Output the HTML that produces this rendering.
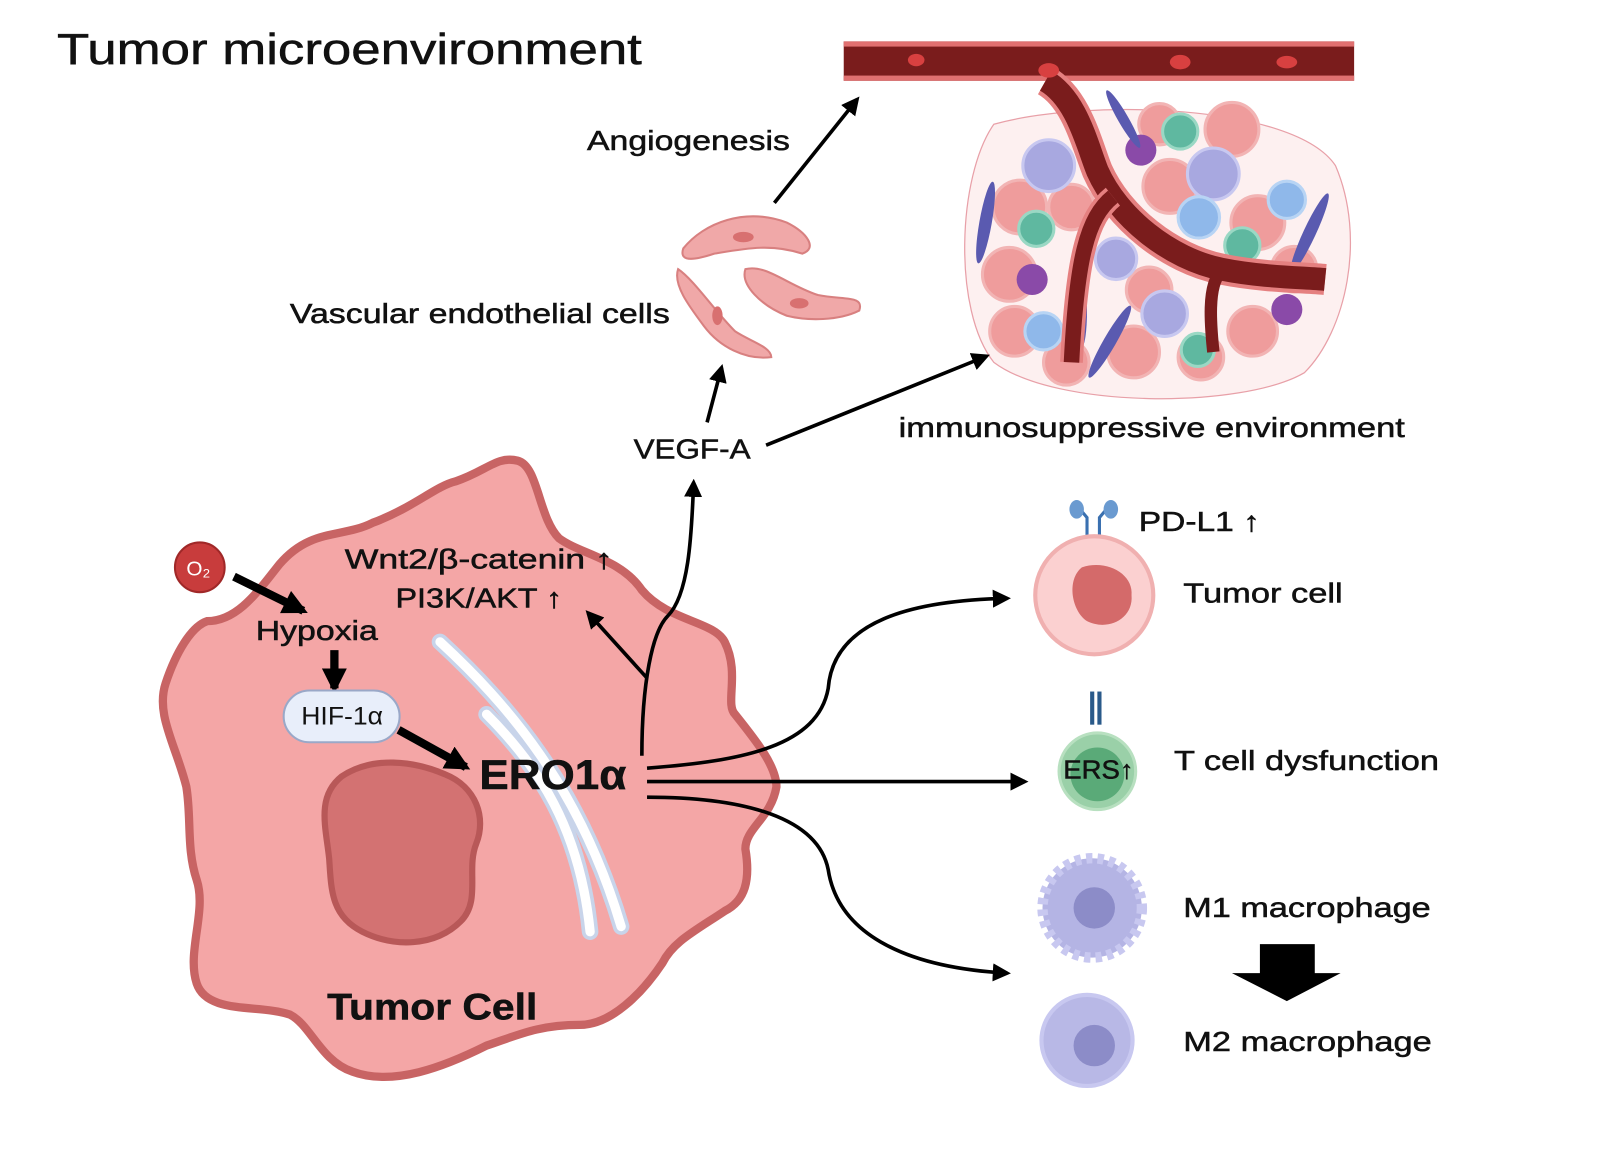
<!DOCTYPE html>
<html><head><meta charset="utf-8"><style>
html,body{margin:0;padding:0;background:#fff;}
svg{display:block;}
text{font-family:"Liberation Sans",sans-serif;fill:#111;stroke:#111;stroke-width:0.5;}
</style></head><body>
<svg width="1615" height="1175" viewBox="0 0 1560 1135" preserveAspectRatio="none" xmlns="http://www.w3.org/2000/svg">
<defs>
<marker id="ah" viewBox="0 0 10 10" refX="8" refY="5" markerWidth="5" markerHeight="5" orient="auto"><path d="M0,0 L10,5 L0,10 z" fill="#000"/></marker>
<marker id="ahs" viewBox="0 0 10 10" refX="8" refY="5" markerWidth="3" markerHeight="3" orient="auto"><path d="M0,0 L10,5 L0,10 z" fill="#000"/></marker>
</defs>
<text x="55" y="62" font-size="42" textLength="565" lengthAdjust="spacingAndGlyphs">Tumor microenvironment</text>

<!-- tissue -->
<path d="M960,120 C1050,95 1250,100 1290,160 C1320,230 1300,320 1260,360 C1200,395 1020,395 960,350 C920,300 925,170 960,120z" fill="#fdf0f0" stroke="#e8a0a8" stroke-width="1.2"/>
<g fill="#ef9c9c" stroke="#f2b4b4" stroke-width="3">
<circle cx="985" cy="200" r="26"/><circle cx="975" cy="265" r="26"/><circle cx="980" cy="320" r="24"/>
<circle cx="1130" cy="180" r="26"/><circle cx="1190" cy="125" r="26"/><circle cx="1215" cy="215" r="26"/>
<circle cx="1110" cy="280" r="22"/><circle cx="1095" cy="340" r="25"/><circle cx="1160" cy="345" r="22"/><circle cx="1210" cy="320" r="24"/><circle cx="1030" cy="350" r="22"/>
<circle cx="1035" cy="200" r="22"/><circle cx="1250" cy="260" r="22"/><circle cx="1120" cy="120" r="20"/>
</g>
<g fill="#a8a8e0" stroke="#c8c8f0" stroke-width="3">
<circle cx="1013" cy="160" r="25"/><circle cx="1172" cy="168" r="25"/><circle cx="1078" cy="250" r="20"/><circle cx="1125" cy="303" r="22"/>
</g>
<g fill="#8fb8ea" stroke="#b8d4f4" stroke-width="3"><circle cx="1158" cy="210" r="20"/><circle cx="1243" cy="193" r="18"/><circle cx="1008" cy="320" r="18"/></g>
<g fill="#5fb8a0" stroke="#9ad8c4" stroke-width="3"><circle cx="1140" cy="127" r="17"/><circle cx="1001" cy="221" r="17"/><circle cx="1200" cy="237" r="17"/><circle cx="1157" cy="338" r="16"/></g>
<g fill="#8a4aa8"><circle cx="1102" cy="145" r="15"/><circle cx="997" cy="270" r="15"/><circle cx="1243" cy="299" r="15"/></g>
<g fill="#5a5ab0"><ellipse cx="952" cy="215" rx="6" ry="40" transform="rotate(10 952 215)"/><ellipse cx="1265" cy="225" rx="6" ry="42" transform="rotate(25 1265 225)"/><ellipse cx="1072" cy="330" rx="6" ry="40" transform="rotate(30 1072 330)"/><ellipse cx="1045" cy="300" rx="5" ry="35"/><ellipse cx="1085" cy="115" rx="5" ry="32" transform="rotate(-30 1085 115)"/></g>
<!-- vessel -->
<rect x="815" y="40" width="493" height="38" fill="#7a1c1c"/>
<rect x="815" y="40" width="493" height="5" fill="#e07070"/>
<rect x="815" y="73" width="493" height="5" fill="#e07070"/>
<path d="M1010,78 C1040,95 1050,140 1060,165 C1080,210 1130,250 1180,260 C1220,268 1260,268 1280,270" fill="none" stroke="#e58080" stroke-width="30"/>
<path d="M1010,78 C1040,95 1050,140 1060,165 C1080,210 1130,250 1180,260 C1220,268 1260,268 1280,270" fill="none" stroke="#7a1c1c" stroke-width="22"/>
<path d="M1075,190 C1050,210 1040,250 1035,350" fill="none" stroke="#e58080" stroke-width="22"/>
<path d="M1075,190 C1050,210 1040,250 1035,350" fill="none" stroke="#7a1c1c" stroke-width="15"/>
<path d="M1180,262 C1165,275 1170,320 1172,340" fill="none" stroke="#7a1c1c" stroke-width="12"/>
<g fill="#d84040"><ellipse cx="885" cy="58" rx="8" ry="6"/><ellipse cx="1013" cy="68" rx="10" ry="7"/><ellipse cx="1140" cy="60" rx="10" ry="7"/><ellipse cx="1243" cy="60" rx="10" ry="6"/></g>

<!-- endothelial cells -->
<g fill="#f0a8a8" stroke="#d88080" stroke-width="2">
<path d="M660,240 C680,215 720,200 760,215 C780,225 790,240 775,245 C745,235 720,240 690,245 C675,250 655,255 660,240z"/>
<path d="M720,260 C740,255 760,275 790,285 C815,290 835,285 830,300 C810,310 780,310 760,305 C735,295 715,275 720,260z"/>
<path d="M655,260 C670,270 690,300 710,320 C725,330 745,335 745,345 C720,348 695,335 680,315 C665,295 650,275 655,260z"/>
</g>
<g fill="#d87070"><ellipse cx="718" cy="229" rx="10" ry="5"/><ellipse cx="772" cy="293" rx="9" ry="5"/><ellipse cx="693" cy="305" rx="5" ry="9"/></g>

<text x="567" y="145" font-size="27" textLength="196" lengthAdjust="spacingAndGlyphs">Angiogenesis</text>
<line x1="748" y1="196" x2="828" y2="96" stroke="#000" stroke-width="3.5" marker-end="url(#ah)"/>
<text x="280" y="312" font-size="27" textLength="367" lengthAdjust="spacingAndGlyphs">Vascular endothelial cells</text>
<text x="612" y="443" font-size="27" textLength="113" lengthAdjust="spacingAndGlyphs">VEGF-A</text>
<line x1="683" y1="408" x2="697" y2="355" stroke="#000" stroke-width="3.5" marker-end="url(#ah)"/>
<line x1="740" y1="430" x2="953" y2="344" stroke="#000" stroke-width="3.5" marker-end="url(#ah)"/>
<text x="868" y="422" font-size="27" textLength="489" lengthAdjust="spacingAndGlyphs">immunosuppressive environment</text>

<!-- big tumor cell -->
<path d="M200,600 C230,600 250,570 270,545 C300,510 330,520 360,505 C400,490 420,470 440,465 C470,455 480,440 500,445 C520,450 520,500 540,520 C560,535 600,540 620,570 C645,600 690,600 700,620 C715,650 700,680 710,690 C730,715 750,740 750,760 C745,790 720,800 720,820 C725,850 720,870 700,880 C670,900 650,910 640,930 C620,960 590,990 560,990 C520,990 500,1000 470,1010 C430,1030 380,1050 340,1035 C310,1025 300,990 280,980 C250,970 200,980 190,950 C180,920 200,880 190,850 C180,820 185,790 180,760 C170,720 150,690 160,660 C170,630 185,605 200,600z" fill="#f4a6a6" stroke="#c86464" stroke-width="8"/>
<path d="M330,750 C360,730 400,735 430,748 C460,760 470,790 460,815 C450,840 465,870 445,890 C420,915 380,915 350,900 C320,885 320,860 318,830 C315,800 305,770 330,750z" fill="#d37272" stroke="#b85858" stroke-width="6"/>
<!-- ER -->
<g fill="none" stroke="#c8d4ea" stroke-width="16" stroke-linecap="round">
<path d="M425,620 C490,680 560,760 600,895"/>
<path d="M470,690 C520,740 560,800 570,900"/>
</g>
<g fill="none" stroke="#ffffff" stroke-width="9" stroke-linecap="round">
<path d="M425,620 C490,680 560,760 600,895"/>
<path d="M470,690 C520,740 560,800 570,900"/>
</g>

<circle cx="193" cy="548" r="24" fill="#c83c3c" stroke="#a02828" stroke-width="2"/>
<text x="180" y="556" font-size="20" style="fill:#fff;stroke:none">O₂</text>
<line x1="226" y1="557" x2="293" y2="590" stroke="#000" stroke-width="8" marker-end="url(#ahs)"/>
<text x="247" y="618" font-size="27" textLength="118" lengthAdjust="spacingAndGlyphs">Hypoxia</text>
<line x1="323" y1="628" x2="323" y2="665" stroke="#000" stroke-width="8" marker-end="url(#ahs)"/>
<rect x="274" y="667" width="112" height="50" rx="25" fill="#e8eefa" stroke="#9aa8c8" stroke-width="2"/>
<text x="291" y="700" font-size="24" style="stroke:none" textLength="79" lengthAdjust="spacingAndGlyphs">HIF-1α</text>
<line x1="385" y1="705" x2="450" y2="741" stroke="#000" stroke-width="8" marker-end="url(#ahs)"/>
<text x="463" y="762" font-size="40" font-weight="bold" textLength="142" lengthAdjust="spacingAndGlyphs">ERO1α</text>
<text x="333" y="549" font-size="27" textLength="259" lengthAdjust="spacingAndGlyphs">Wnt2/β-catenin ↑</text>
<text x="382" y="587" font-size="27" textLength="161" lengthAdjust="spacingAndGlyphs">PI3K/AKT ↑</text>
<line x1="625" y1="655" x2="568" y2="592" stroke="#000" stroke-width="3.5" marker-end="url(#ah)"/>
<path d="M620,730 C620,660 630,610 645,595 C665,575 668,520 670,466" fill="none" stroke="#000" stroke-width="3.5" marker-end="url(#ah)"/>
<path d="M625,742 C720,735 790,720 800,665 C805,600 880,580 973,578" fill="none" stroke="#000" stroke-width="3.5" marker-end="url(#ah)"/>
<line x1="625" y1="755" x2="990" y2="755" stroke="#000" stroke-width="3.5" marker-end="url(#ah)"/>
<path d="M625,770 C720,770 790,790 800,840 C810,905 880,935 973,940" fill="none" stroke="#000" stroke-width="3.5" marker-end="url(#ah)"/>
<text x="316" y="985" font-size="36" font-weight="bold" textLength="203" lengthAdjust="spacingAndGlyphs">Tumor Cell</text>

<!-- right cells -->
<g stroke="#3a70b0" stroke-width="3" fill="none"><path d="M1050,530 L1050,500 L1040,488"/><path d="M1062,530 L1062,500 L1072,488"/></g>
<g fill="#6a9ad0"><ellipse cx="1040" cy="492" rx="7" ry="9"/><ellipse cx="1073" cy="492" rx="7" ry="9"/></g>
<circle cx="1057" cy="575" r="57" fill="#fbd0d0" stroke="#f0b0b0" stroke-width="4"/>
<path d="M1045,548 C1070,540 1095,555 1093,575 C1095,598 1070,610 1050,600 C1035,590 1030,560 1045,548z" fill="#d46a6a"/>
<text x="1100" y="513" font-size="27" textLength="117" lengthAdjust="spacingAndGlyphs">PD-L1 ↑</text>
<text x="1143" y="582" font-size="27" textLength="154" lengthAdjust="spacingAndGlyphs">Tumor cell</text>
<g fill="#2a5a8a"><rect x="1053" y="668" width="4" height="32"/><rect x="1060" y="668" width="4" height="32"/></g>
<circle cx="1060" cy="745" r="37" fill="#9ad0a8" stroke="#b8e0c0" stroke-width="3"/>
<circle cx="1060" cy="748" r="26" fill="#5aaa78"/>
<text x="1027" y="752" font-size="25" textLength="68" lengthAdjust="spacingAndGlyphs">ERS↑</text>
<text x="1134" y="744" font-size="27" textLength="256" lengthAdjust="spacingAndGlyphs">T cell dysfunction</text>
<circle cx="1055" cy="877" r="48" fill="#b4b4e4" stroke="#c8c8f0" stroke-width="10" stroke-dasharray="6 5"/>
<circle cx="1057" cy="877" r="20" fill="#8c8cc8"/>
<text x="1143" y="886" font-size="27" textLength="239" lengthAdjust="spacingAndGlyphs">M1 macrophage</text>
<polygon points="1217,912 1270,912 1270,940 1295,940 1243,967 1190,940 1217,940" fill="#000"/>
<circle cx="1050" cy="1005" r="44" fill="#b8b8e6" stroke="#c8c8f0" stroke-width="4"/>
<circle cx="1057" cy="1010" r="20" fill="#8c8cc8"/>
<text x="1143" y="1015" font-size="27" textLength="240" lengthAdjust="spacingAndGlyphs">M2 macrophage</text>
</svg>
</body></html>
